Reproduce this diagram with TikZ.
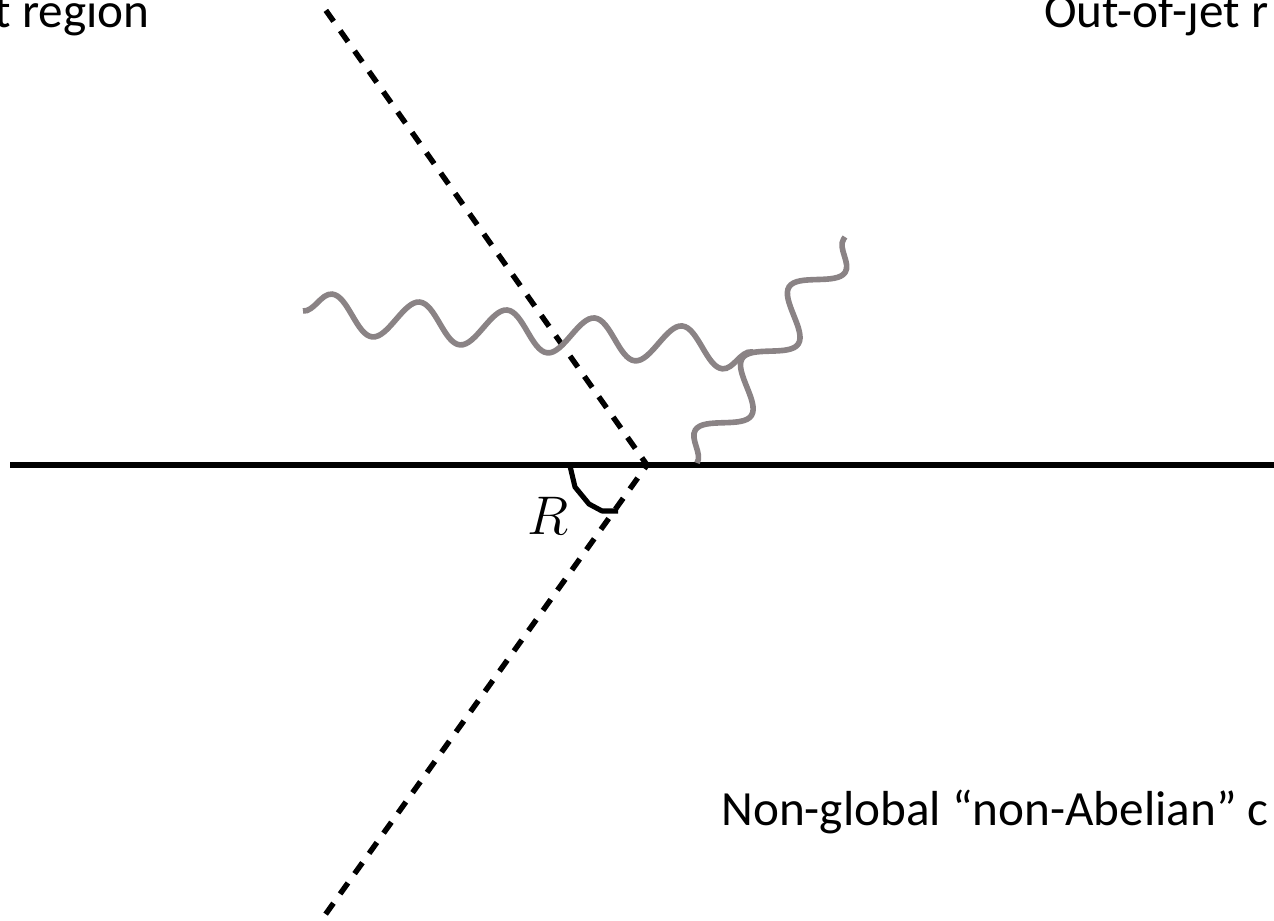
\RequirePackage{fix-cm}
\documentclass[tikz,border=0pt]{standalone}
\usepackage{fontspec}
\setmainfont{Carlito}
\usepackage{xcolor}
\definecolor{gluongrey}{HTML}{8A8385}
\usetikzlibrary{calc,decorations.pathmorphing}

\begin{document}
\begin{tikzpicture}[x=0.02cm, y=-0.02cm,
  beam/.style={line width=3.6pt, black},
  jetedge/.style={line width=3.1pt, dash pattern=on 7.65pt off 6.52pt, line join=miter},
  gluon/.style={draw=gluongrey, line width=3.2pt, decorate,
                decoration={snake, amplitude=0.39cm, segment length=#1}},
  anglemark/.style={line width=2.9pt, line join=round},
  region/.style={font=\fontsize{28}{33}\selectfont, inner sep=0pt}
]
  \useasboundingbox (0,0) rectangle (1274,920);
  \clip (0,0) rectangle (1274,920);

  \coordinate (vertex) at (647,465);
  \coordinate (beamL) at (10,465);
  \coordinate (beamR) at (1300,465);
  \coordinate (jetTop) at ($(vertex)!11.135cm!(327,12)$);
  \coordinate (jetBot) at ($(vertex)!11.135cm!(325,915)$);
  \coordinate (gA) at (303,311);
  \coordinate (gJ) at (753,352);
  \coordinate (gB) at (697,463);
  \coordinate (gT) at (845,237);

  \draw[beam] (beamL) -- (beamR);
  \draw[jetedge] (jetTop) -- (vertex) -- (jetBot);
  \draw[anglemark] (570,466) -- (575,487) -- (589,504) -- (602,511) -- (618,511);

  \draw[gluon=1.758cm] (gA) -- (gJ);
  \draw[gluon=1.712cm] (gB) -- (gT);

  \node (radius) at (548,516) {\fontsize{31}{36}\selectfont $R$};

  \node[region, anchor=base east] (injet) at (150,27) {t region};
  \node[region, anchor=base west] (outjet) at (1044,27) {Out-of-jet r};
  \node[region, anchor=base west] (nonglobal) at (721,825) {Non-global “non-Abelian” c};
\end{tikzpicture}
\end{document}
